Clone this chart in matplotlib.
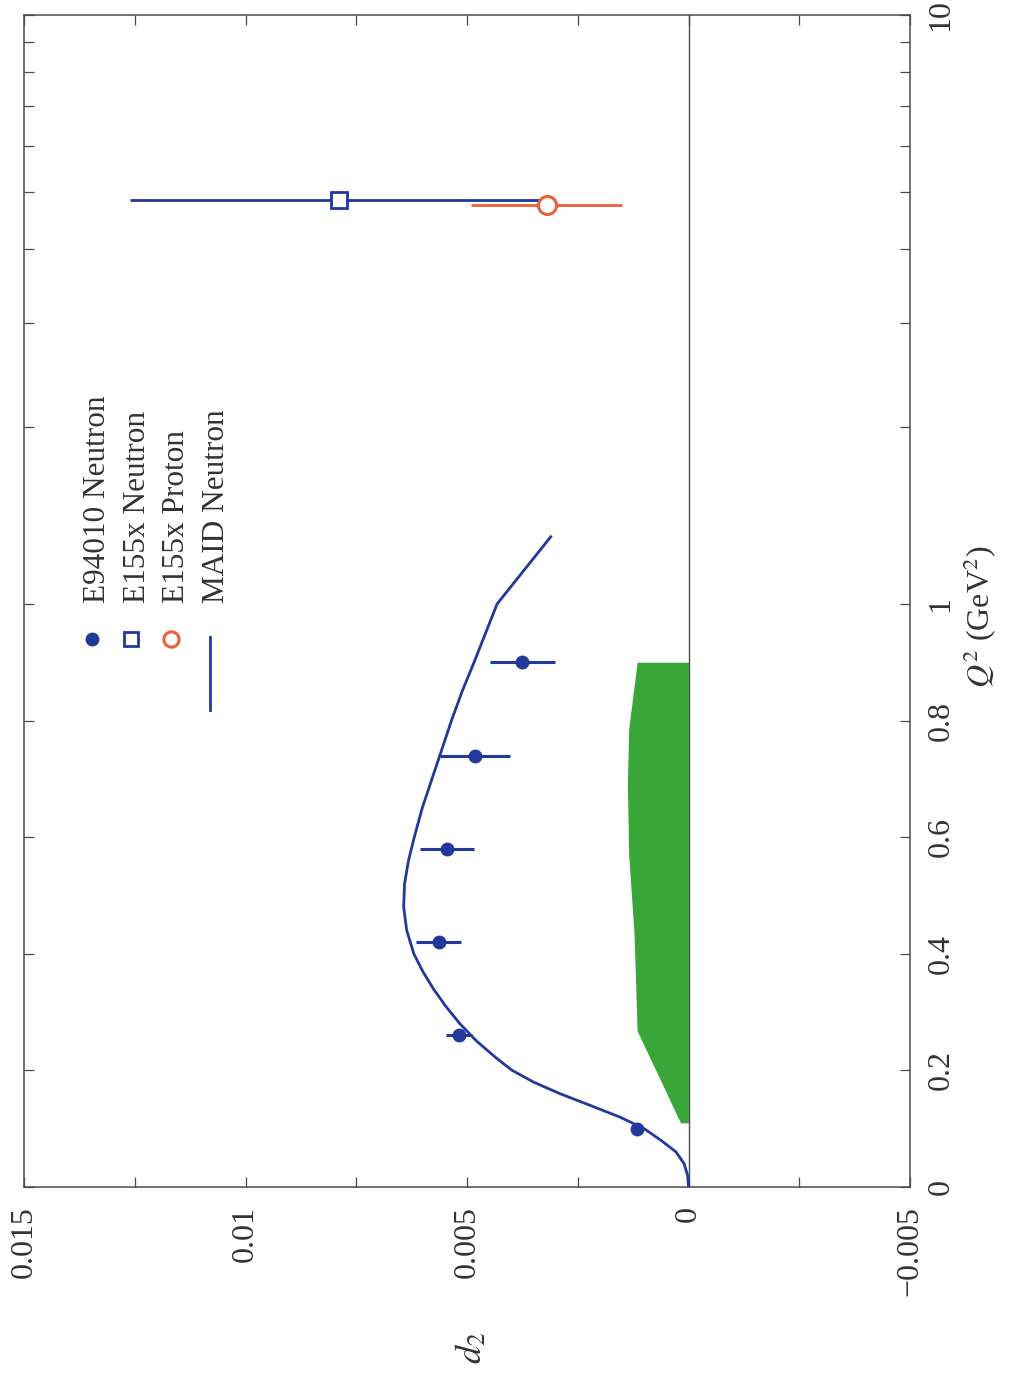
import matplotlib
matplotlib.use("Agg")
import matplotlib.pyplot as plt
import numpy as np

plt.rcParams["font.family"] = ["Liberation Serif", "DejaVu Serif"]
plt.rcParams["mathtext.fontset"] = "stix"

# ---------------------------------------------------------------- dados
# E94010 nêutron
q2_e94 = [0.10, 0.26, 0.42, 0.58, 0.74, 0.90]
d2_e94 = [0.00116, 0.00518, 0.00564, 0.00545, 0.00481, 0.00375]
err_e94 = [0.0001, 0.0003, 0.0005, 0.0006, 0.00079, 0.00073]

# E155x
q2_e155n = [4.85]
d2_e155n = [0.0079]
err_e155n = [0.0047]
q2_e155p = [4.75]
d2_e155p = [0.0032]
err_e155p = [0.0017]

# MAID nêutron
q2_maid = [0.00, 0.02, 0.04, 0.06, 0.08, 0.10, 0.12, 0.14, 0.16, 0.18, 0.20,
           0.22, 0.25, 0.28, 0.31, 0.34, 0.37, 0.40, 0.44, 0.48, 0.52, 0.56,
           0.60, 0.65, 0.70, 0.75, 0.80, 0.85, 0.90, 0.95, 1.00, 1.30]
d2_maid = [0.0, 0.00002, 0.00010, 0.00028, 0.00062, 0.00100, 0.00155, 0.00222,
           0.00290, 0.00350, 0.00398, 0.00432, 0.00478, 0.00516, 0.00548,
           0.00576, 0.00600, 0.00620, 0.00636, 0.00643, 0.00641, 0.00632,
           0.00619, 0.00601, 0.00579, 0.00557, 0.00535, 0.00511, 0.00484,
           0.00458, 0.00432, 0.00311]

# banda sistemática
q2_band = [0.11, 0.268, 0.435, 0.570, 0.691, 0.786, 0.90]
d2_band = [0.00018, 0.00116, 0.00123, 0.00135, 0.00138, 0.00135, 0.00116]

d2_ticks = [0.015, 0.01, 0.005, 0.0, -0.005]
d2_ticklabels = ["0.015", "0.01", "0.005", "0", "\u22120.005"]
q2_ticks = [0, 0.2, 0.4, 0.6, 0.8, 1, 10]
q2_ticklabels = ["0", "0.2", "0.4", "0.6", "0.8", "1", "10"]
q2_minor = [2, 3, 4, 5, 6, 7, 8, 9]

leg_labels = ["E94010 Neutron", "E155x Neutron", "E155x Proton", "MAID Neutron"]

BLUE = "#22389c"
RED = "#ee5f3a"
GREEN = "#3aa63a"
AXC = "#4a4a4a"

# escala de Q²: linear até 1, log de 1 a 10
K = 1.01


def fwd(q):
    q = np.asarray(q, dtype=float)
    return np.where(q <= 1, q, 1 + K * np.log10(np.where(q > 1, q, 1.0)))


def inv(t):
    t = np.asarray(t, dtype=float)
    return np.where(t <= 1, t, 10 ** ((t - 1) / K))


fig = plt.figure(figsize=(10.13, 13.74), dpi=100)
ax = fig.add_axes([24 / 1013, 1 - 1187 / 1374, 886 / 1013, 1172 / 1374])
ax.set_yscale("function", functions=(fwd, inv))
ax.set_xlim(0.015, -0.005)
ax.set_ylim(0, 10)

ax.axvline(0, color=AXC, lw=1.0, zorder=1)
ax.fill_betweenx(q2_band, 0, d2_band, color=GREEN, lw=0, zorder=2)
ax.plot(d2_maid, q2_maid, color=BLUE, lw=2.0, zorder=3)
ax.errorbar(d2_e94, q2_e94, xerr=err_e94, fmt="o", color=BLUE, ms=9,
            elinewidth=2.2, capsize=0, zorder=4)
ax.errorbar(d2_e155n, q2_e155n, xerr=err_e155n, fmt="s", color=BLUE, ms=11,
            mfc="white", mew=2.0, elinewidth=2.0, capsize=0, zorder=4)
ax.errorbar(d2_e155p, q2_e155p, xerr=err_e155p, fmt="o", color=RED, ms=13,
            mfc="white", mew=2.2, elinewidth=2.0, capsize=0, zorder=5)

# eixos
ax.set_xticks(d2_ticks)
ax.set_xticklabels(d2_ticklabels)
ax.set_xticks(np.arange(-0.005, 0.0151, 0.0025), minor=True)
ax.set_yticks(q2_ticks)
ax.set_yticklabels(q2_ticklabels)
ax.set_yticks(q2_minor, minor=True)
ax.yaxis.set_minor_formatter(plt.NullFormatter())
ax.tick_params(which="both", direction="in", top=True, bottom=True, left=True,
               right=True, length=7, width=0.9, color=AXC, labelsize=23,
               labelcolor="#333333")
ax.tick_params(axis="y", labelleft=False, labelright=True, pad=12)
ax.tick_params(axis="x", pad=14)
for lab in ax.get_xticklabels():
    lab.set_rotation(90)
    lab.set_va("top")
    lab.set_ha("center")
for lab in ax.get_yticklabels():
    lab.set_rotation(90)
    lab.set_va("center")
    lab.set_ha("left")
for s in ax.spines.values():
    s.set_color(AXC)
    s.set_linewidth(1.1)

fig.text(0.9674, 0.5509, r"$Q^2$ (GeV$^2$)", rotation=90, ha="center",
         va="center", fontsize=23, color="#333333")
fig.text(0.466, 0.0190, r"$d_2$", rotation=90, ha="center", va="center",
         fontsize=26, color="#333333")

# legenda (girada junto com a figura)
tr = ax.transAxes
styles = [dict(marker="o", ms=9, color=BLUE, ls="none"),
          dict(marker="s", ms=10, color=BLUE, mfc="white", mew=2.0, ls="none"),
          dict(marker="o", ms=11, color=RED, mfc="white", mew=2.2, ls="none")]
x0, dx = 0.0764, 0.0445
for i, lab in enumerate(leg_labels):
    xm = x0 + i * dx
    if i < 3:
        ax.plot([xm], [0.468], transform=tr, clip_on=False, **styles[i])
    else:
        ax.plot([xm, xm], [0.469, 0.407], transform=tr, color=BLUE, lw=2.0)
    ax.text(xm + 0.0155, 0.4983, lab, transform=tr, rotation=90,
            rotation_mode="anchor", ha="left", va="baseline", fontsize=22.5,
            color="#333333")

fig.savefig("out.png", dpi=100, facecolor="white")
